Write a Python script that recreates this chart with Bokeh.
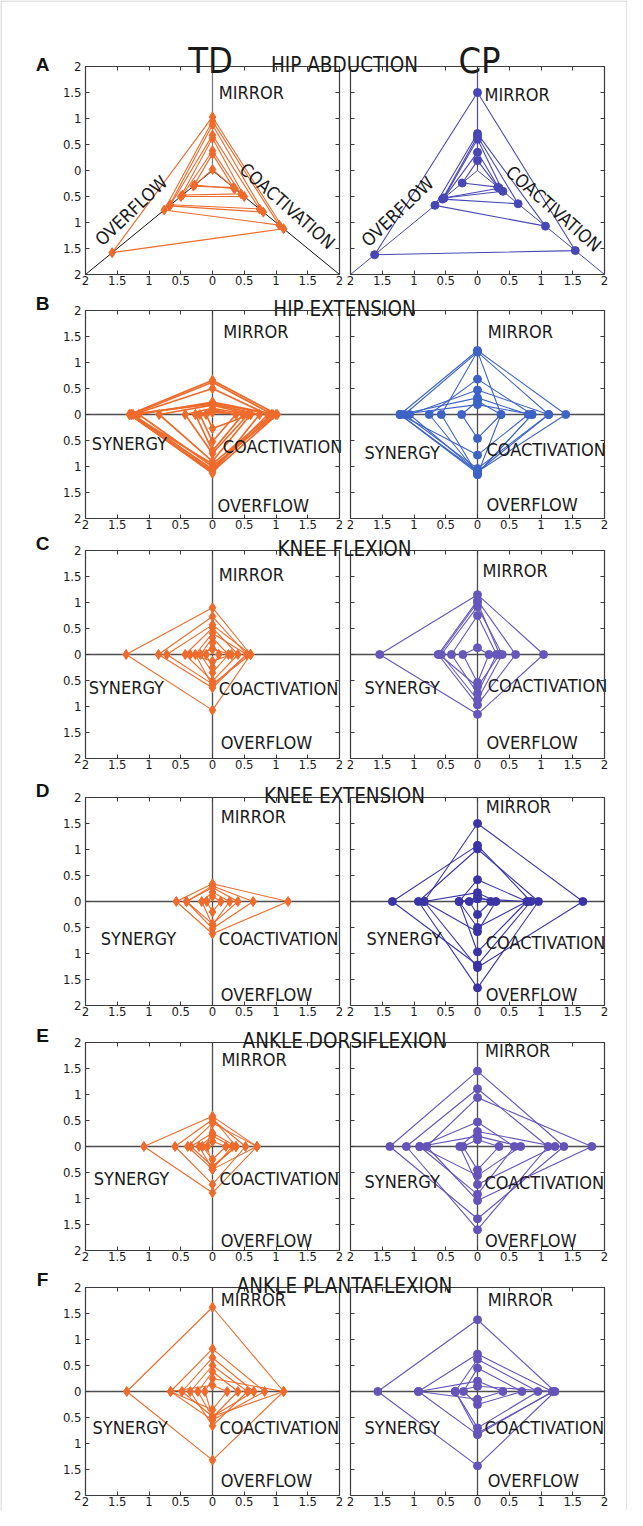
import numpy as np
from bokeh.plotting import figure
from bokeh.models import Range1d, LinearAxis, FixedTicker, CustomJSTickFormatter
from bokeh.embed import file_html
from bokeh.resources import INLINE
from bokeh.core.properties import value

# ---------------- data ----------------
# Hip abduction (triangle): [mirror, coactivation, overflow]
hip_abd_td = [
    [1.03, 1.12, 1.58],
    [0.95, 1.05, 0.76],
    [0.88, 0.80, 0.68],
    [0.68, 0.74, 0.66],
    [0.62, 0.50, 0.50],
    [0.38, 0.45, 0.47],
    [0.32, 0.33, 0.30],
    [0.02, 0.35, 0.28],
]
hip_abd_cp = [
    [1.50, 1.54, 1.62],
    [0.71, 1.07, 0.67],
    [0.66, 0.64, 0.55],
    [0.60, 0.40, 0.53],
    [0.35, 0.34, 0.53],
    [0.19, 0.32, 0.24],
]
# Other movements: [mirror, coactivation, overflow, synergy]
hip_ext_td = [
    [0.66, 1.02, 1.10, 1.31],
    [0.62, 0.95, 1.05, 1.27],
    [0.50, 0.87, 1.07, 1.25],
    [0.24, 1.00, 1.00, 1.16],
    [0.20, 0.74, 1.13, 1.30],
    [0.22, 0.93, 0.95, 1.28],
    [0.18, 0.60, 0.90, 0.84],
    [0.12, 0.56, 0.75, 0.43],
    [0.06, 0.48, 0.70, 0.27],
    [0.10, 0.37, 0.52, 0.20],
    [0.04, 0.60, 0.27, 0.10],
]
hip_ext_cp = [
    [1.23, 1.39, 1.10, 1.22],
    [1.20, 1.12, 1.04, 1.15],
    [1.21, 0.37, 1.16, 0.57],
    [0.68, 0.86, 1.13, 0.76],
    [0.47, 1.12, 1.10, 1.07],
    [0.32, 0.80, 0.78, 1.22],
    [0.26, 0.37, 0.46, 0.25],
    [0.19, 0.86, 1.13, 1.22],
]
knee_flex_td = [
    [0.90, 0.60, 1.07, 1.36],
    [0.73, 0.54, 0.64, 0.85],
    [0.57, 0.60, 0.57, 0.72],
    [0.51, 0.40, 0.51, 0.43],
    [0.41, 0.54, 0.60, 0.27],
    [0.32, 0.25, 0.35, 0.19],
    [0.22, 0.10, 0.25, 0.10],
    [0.10, 0.30, 0.13, 0.35],
]
knee_flex_cp = [
    [1.15, 1.04, 1.15, 1.54],
    [1.04, 0.60, 0.97, 0.62],
    [1.00, 0.35, 0.62, 0.60],
    [0.92, 0.39, 0.87, 0.57],
    [0.75, 0.30, 0.75, 0.41],
    [0.13, 0.18, 0.54, 0.23],
]
knee_ext_td = [
    [0.34, 1.19, 0.62, 0.57],
    [0.30, 0.64, 0.52, 0.41],
    [0.27, 0.40, 0.43, 0.41],
    [0.18, 0.27, 0.45, 0.17],
    [0.10, 0.13, 0.20, 0.09],
]
knee_ext_cp = [
    [1.50, 1.66, 1.27, 0.84],
    [1.08, 0.84, 1.22, 1.34],
    [1.01, 0.96, 1.66, 0.93],
    [0.42, 0.78, 0.97, 0.29],
    [0.17, 0.29, 0.58, 0.84],
    [0.10, 0.21, 0.25, 0.13],
    [0.05, 0.78, 0.50, 0.29],
]
ankle_dorsi_td = [
    [0.58, 0.70, 0.89, 1.08],
    [0.52, 0.52, 0.73, 0.59],
    [0.55, 0.37, 0.40, 0.08],
    [0.45, 0.70, 0.44, 0.39],
    [0.26, 0.37, 0.38, 0.34],
    [0.20, 0.31, 0.44, 0.21],
    [0.10, 0.21, 0.25, 0.16],
]
ankle_dorsi_cp = [
    [1.45, 1.36, 1.39, 1.38],
    [1.11, 1.11, 1.60, 1.12],
    [0.94, 1.80, 1.04, 0.80],
    [0.47, 0.58, 0.92, 0.91],
    [0.29, 1.22, 0.73, 0.28],
    [0.20, 0.68, 0.56, 0.91],
    [0.13, 0.34, 0.45, 0.23],
]
ankle_plant_td = [
    [1.62, 1.12, 1.32, 1.35],
    [0.82, 0.82, 0.55, 0.66],
    [0.65, 0.65, 0.48, 0.48],
    [0.50, 0.55, 0.66, 0.35],
    [0.38, 0.40, 0.50, 0.23],
    [0.25, 1.12, 0.48, 0.12],
    [0.12, 0.23, 0.35, 0.66],
]
ankle_plant_cp = [
    [1.38, 1.22, 1.43, 1.57],
    [0.72, 1.18, 0.83, 0.93],
    [0.62, 0.95, 0.70, 0.35],
    [0.45, 0.70, 0.25, 0.22],
    [0.20, 0.40, 0.15, 0.93],
    [0.10, 1.20, 0.80, 0.35],
]

titles = ["HIP ABDUCTION", "HIP EXTENSION", "KNEE FLEXION", "KNEE EXTENSION",
          "ANKLE DORSIFLEXION", "ANKLE PLANTAFLEXION"]
letters = ["A", "B", "C", "D", "E", "F"]
groups = ["TD", "CP"]
axis_ticks = [-2, -1.5, -1, -0.5, 0, 0.5, 1, 1.5, 2]

td_sets = [hip_abd_td, hip_ext_td, knee_flex_td, knee_ext_td, ankle_dorsi_td, ankle_plant_td]
cp_sets = [hip_abd_cp, hip_ext_cp, knee_flex_cp, knee_ext_cp, ankle_dorsi_cp, ankle_plant_cp]

# ---------------- styles / layout ----------------
FONT = "Liberation Sans Narrow, DejaVu Sans Condensed, Roboto Condensed, sans-serif"
BOLD_FONT = "Liberation Sans, Arial, sans-serif"
TD_COLOR = "#EE6B2C"
CP_COLORS = ["#4747B5", "#3D63C6", "#6657BC", "#3A34A6", "#6553B9", "#6654B9"]
BOX_COLOR = "#3a3a3a"
AX_COLOR = "#4d4d4d"
TXT = "#1a1a1a"

FIG_W, FIG_H = 627, 1510
PAGE_X0, PAGE_Y0 = 8, 8
SX = 63.5            # px per unit, horizontal
SYP = 52.0           # px per unit, vertical
L_CENTER = 220.0     # page x of left panel centre
R_OFF = (485.0 - L_CENTER) / SX
BOX_TOPS = [74, 318, 558, 805, 1050, 1295]
BOX_H = 4 * SYP
LETTER_DY = [2, 7, 7, 7, 7, 8]


def dx(px):
    return (px - L_CENTER) / SX


def dy(py):
    return (PAGE_Y0 + FIG_H - py) / SYP


ROW_C = [dy(t + BOX_H / 2) for t in BOX_TOPS]

# annotation text placements (panel-relative), per row: TD list and CP list
ANN = [
    ([("MIRROR", 0.10, 1.50, 0.0, "left"), ("COACTIVATION", 1.18, -0.68, -0.72, "center"),
      ("OVERFLOW", -1.28, -0.77, 0.76, "center")],
     [("MIRROR", 0.11, 1.47, 0.0, "left"), ("COACTIVATION", 1.20, -0.73, -0.72, "center"),
      ("OVERFLOW", -1.26, -0.79, 0.76, "center")]),
    ([("MIRROR", 0.17, 1.60, 0, "left"), ("SYNERGY", -1.90, -0.55, 0, "left"),
      ("COACTIVATION", 0.16, -0.61, 0, "left"), ("OVERFLOW", 0.08, -1.75, 0, "left")],
     [("MIRROR", 0.16, 1.60, 0, "left"), ("SYNERGY", -1.78, -0.74, 0, "left"),
      ("COACTIVATION", 0.14, -0.67, 0, "left"), ("OVERFLOW", 0.14, -1.74, 0, "left")]),
    ([("MIRROR", 0.10, 1.53, 0, "left"), ("SYNERGY", -1.95, -0.63, 0, "left"),
      ("COACTIVATION", 0.10, -0.65, 0, "left"), ("OVERFLOW", 0.13, -1.70, 0, "left")],
     [("MIRROR", 0.08, 1.62, 0, "left"), ("SYNERGY", -1.78, -0.63, 0, "left"),
      ("COACTIVATION", 0.16, -0.60, 0, "left"), ("OVERFLOW", 0.14, -1.70, 0, "left")]),
    ([("MIRROR", 0.13, 1.64, 0, "left"), ("SYNERGY", -1.76, -0.72, 0, "left"),
      ("COACTIVATION", 0.10, -0.72, 0, "left"), ("OVERFLOW", 0.13, -1.79, 0, "left")],
     [("MIRROR", 0.13, 1.82, 0, "left"), ("SYNERGY", -1.75, -0.72, 0, "left"),
      ("COACTIVATION", 0.13, -0.79, 0, "left"), ("OVERFLOW", 0.13, -1.78, 0, "left")]),
    ([("MIRROR", 0.14, 1.68, 0, "left"), ("SYNERGY", -1.87, -0.61, 0, "left"),
      ("COACTIVATION", 0.11, -0.61, 0, "left"), ("OVERFLOW", 0.13, -1.80, 0, "left")],
     [("MIRROR", 0.12, 1.85, 0, "left"), ("SYNERGY", -1.78, -0.67, 0, "left"),
      ("COACTIVATION", 0.11, -0.70, 0, "left"), ("OVERFLOW", 0.12, -1.80, 0, "left")]),
    ([("MIRROR", 0.13, 1.77, 0, "left"), ("SYNERGY", -1.89, -0.70, 0, "left"),
      ("COACTIVATION", 0.11, -0.70, 0, "left"), ("OVERFLOW", 0.13, -1.72, 0, "left")],
     [("MIRROR", 0.16, 1.77, 0, "left"), ("SYNERGY", -1.78, -0.70, 0, "left"),
      ("COACTIVATION", 0.11, -0.70, 0, "left"), ("OVERFLOW", 0.16, -1.72, 0, "left")]),
]

X_FMT = """
const v = tick > off / 2 ? tick - off : tick;
const a = Math.round(Math.abs(v) * 100) / 100;
return a.toString();
"""
Y_FMT = """
let best = centers[0];
for (const c of centers) { if (Math.abs(tick - c) < Math.abs(tick - best)) best = c; }
const a = Math.round(Math.abs(tick - best) * 100) / 100;
return a.toString();
"""


def make_axis(ticks, loc, formatter=None):
    ax = LinearAxis(ticker=FixedTicker(ticks=ticks), fixed_location=loc,
                    major_tick_in=4, major_tick_out=0, minor_tick_in=0, minor_tick_out=0,
                    axis_line_color=None, major_tick_line_color=BOX_COLOR,
                    major_tick_line_width=1)
    if formatter is not None:
        ax.formatter = formatter
        ax.major_label_text_font = FONT
        ax.major_label_text_font_size = "13px"
        ax.major_label_text_color = TXT
    else:
        ax.major_label_text_alpha = 0
        ax.major_label_text_font_size = "2px"
    return ax


p = figure(width=FIG_W, height=FIG_H,
           x_range=Range1d(dx(PAGE_X0), dx(PAGE_X0 + FIG_W)),
           y_range=Range1d(0, FIG_H / SYP),
           toolbar_location=None, output_backend="svg", tools="",
           min_border=0, x_axis_location=None, y_axis_location=None)
p.outline_line_color = None
p.grid.visible = False
p.background_fill_color = "white"
p.border_fill_color = "white"

# light page frame (left, top, right)
fx0, fx1 = dx(PAGE_X0 + 0.5), dx(PAGE_X0 + FIG_W - 0.5)
fy0, fy1 = dy(PAGE_Y0 + FIG_H), dy(PAGE_Y0 + 0.5)
p.segment(x0=[fx0, fx0, fx1], y0=[fy0, fy1, fy1], x1=[fx0, fx1, fx1], y1=[fy1, fy1, fy0],
          line_color="#c8c8c8", line_width=1)

# ---- axes (ticks on all four sides of both panels) ----
y_ticks_all = [c + t for c in ROW_C for t in axis_ticks]
x_ticks_all = list(axis_ticks) + [t + R_OFF for t in axis_ticks]
yfmt = CustomJSTickFormatter(args=dict(centers=ROW_C), code=Y_FMT)
ax_left = make_axis(y_ticks_all, -2, yfmt)
ax_left.major_label_standoff = 4
p.add_layout(ax_left, "left")
p.add_layout(make_axis(y_ticks_all, R_OFF - 2), "left")
p.add_layout(make_axis(y_ticks_all, R_OFF + 2), "right")
p.add_layout(make_axis(y_ticks_all, 2), "right")
for c in ROW_C:
    xfmt = CustomJSTickFormatter(args=dict(off=R_OFF), code=X_FMT)
    axb = make_axis(x_ticks_all, c - 2, xfmt)
    axb.major_label_standoff = 1
    p.add_layout(axb, "below")
    p.add_layout(make_axis(x_ticks_all, c + 2), "above")


def panel_shapes(rows, tri, xo, yo):
    xs, ys, px, py = [], [], [], []
    for r in rows:
        if tri:
            m, c, o = r
            vx = [0, c, -o]
            vy = [m, -c, -o]
        else:
            m, c, o, s = r
            vx = [0, c, 0, -s]
            vy = [m, 0, -o, 0]
        vx = [v + xo for v in vx]
        vy = [v + yo for v in vy]
        xs.append(vx + [vx[0]])
        ys.append(vy + [vy[0]])
        px += vx
        py += vy
    return xs, ys, px, py


for i in range(6):
    yc = ROW_C[i]
    tri = (i == 0)
    for g, (rows, xo) in enumerate([(td_sets[i], 0.0), (cp_sets[i], R_OFF)]):
        col = TD_COLOR if g == 0 else CP_COLORS[i]
        if tri:
            vcol = "#777777" if g == 0 else col
            dcol = "#111111" if g == 0 else col
            p.segment(x0=[xo], y0=[yc], x1=[xo], y1=[yc + 2], line_color=vcol, line_width=1.2)
            p.segment(x0=[xo, xo], y0=[yc, yc], x1=[xo + 2, xo - 2], y1=[yc - 2, yc - 2],
                      line_color=dcol, line_width=1)
        else:
            p.segment(x0=[xo - 2, xo], y0=[yc, yc - 2], x1=[xo + 2, xo], y1=[yc, yc + 2],
                      line_color=AX_COLOR, line_width=1.3)
        xs, ys, px, py = panel_shapes(rows, tri, xo, yc)
        lw = 1.7 if (g == 0 and i == 1) else 1.1
        p.multi_line(xs=xs, ys=ys, line_color=col, line_width=lw)
        if g == 0:
            p.scatter(x=px, y=py, marker="diamond", size=10, fill_color=col, line_color=col)
        else:
            p.scatter(x=px, y=py, marker="circle", size=8, fill_color=col, line_color=col)
        for (t, ax_, ay_, ang, al) in ANN[i][g]:
            p.text(x=[ax_ + xo], y=[ay_ + yc], text=[t], angle=ang,
                   text_font=value(FONT), text_font_size="18px", text_color=TXT,
                   text_align=al, text_baseline="middle")
        p.quad(left=[xo - 2], right=[xo + 2], bottom=[yc - 2], top=[yc + 2],
               fill_color=None, line_color=BOX_COLOR, line_width=1.2)

# ---- headers ----
p.text(x=[dx(50)] * 6, y=[dy(t - d) for t, d in zip(BOX_TOPS, LETTER_DY)], text=letters,
       text_font=value(BOLD_FONT), text_font_style="bold", text_font_size="19px",
       text_color="#111111", text_align="center", text_baseline="middle")
p.text(x=[dx(352)] * 6, y=[dy(t - 1.5) for t in BOX_TOPS], text=titles,
       text_font=value(FONT), text_font_size="20.5px", text_color=TXT,
       text_align="center", text_baseline="alphabetic")
p.text(x=[dx(218), dx(487)], y=[dy(68)] * 2, text=groups,
       text_font=value(FONT), text_font_size="36px", text_color=TXT,
       text_align="center", text_baseline="alphabetic")

open("out.html", "w").write(file_html(p, INLINE))
